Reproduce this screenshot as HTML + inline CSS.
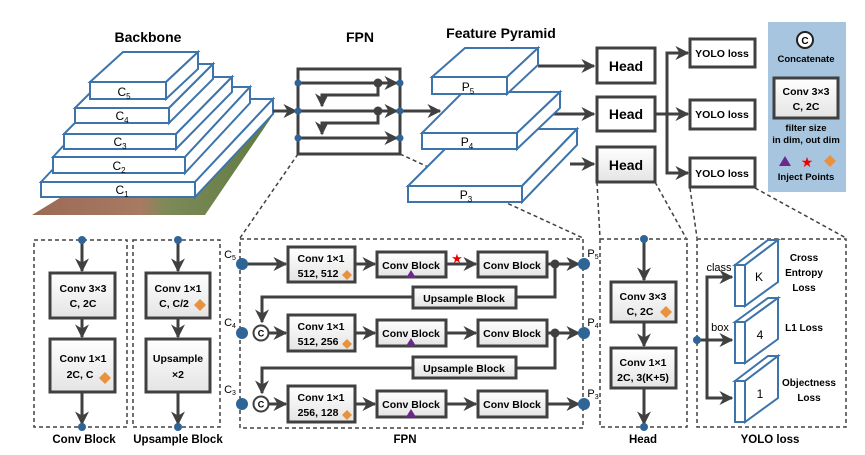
<!DOCTYPE html>
<html><head><meta charset="utf-8"><style>
html,body{margin:0;padding:0;background:#fff;}
svg{display:block;font-family:"Liberation Sans",sans-serif;}
.b{font-weight:bold;}
</style></head><body>
<svg width="865" height="455" viewBox="0 0 865 455" xmlns="http://www.w3.org/2000/svg">
<defs>
<linearGradient id="g" x1="0" y1="0" x2="0" y2="1"><stop offset="0" stop-color="#ffffff"/><stop offset="1" stop-color="#e4e4e4"/></linearGradient>
<linearGradient id="tex" x1="0" y1="0" x2="1" y2="0"><stop offset="0" stop-color="#9a6a55"/><stop offset="0.45" stop-color="#a87a62"/><stop offset="0.55" stop-color="#7d8a58"/><stop offset="1" stop-color="#5f7a40"/></linearGradient>
<marker id="A" viewBox="0 0 10 10" markerWidth="14" markerHeight="14" refX="9" refY="5" orient="auto" markerUnits="userSpaceOnUse"><path d="M0,0 L10,5 L0,10 L3,5 Z" fill="#404040"/></marker>
</defs>

<g stroke="#404040" stroke-width="1.5" stroke-dasharray="4,3" fill="none">
<line x1="298" y1="154" x2="240" y2="238"/>
<line x1="400" y1="154" x2="583" y2="238"/>
<line x1="597" y1="182" x2="600" y2="238"/>
<line x1="655" y1="182" x2="686" y2="238"/>
<line x1="690" y1="188" x2="697" y2="238"/>
<line x1="755" y1="188" x2="846" y2="238"/>
</g>

<text x="148" y="42" class="b" font-size="14" text-anchor="middle">Backbone</text>
<text x="360" y="42" class="b" font-size="14" text-anchor="middle">FPN</text>
<text x="501" y="38" class="b" font-size="14" text-anchor="middle">Feature Pyramid</text>

<polygon points="32,215 205,215 275,112 200,112" fill="url(#tex)"/>

<g stroke="#3d74ab" stroke-width="2" fill="#fff" stroke-linejoin="miter">
<polygon points="41,182 119,99 273,99 195,182"/><polygon points="195,182 273,99 273,114 195,197"/><rect x="41" y="182" width="154" height="15"/>
<polygon points="53,157 118,87 250,87 185,157"/><polygon points="185,157 250,87 250,103 185,173"/><rect x="53" y="157" width="132" height="16"/>
<polygon points="64,134 120,77 232,77 176,134"/><polygon points="176,134 232,77 232,92 176,149"/><rect x="64" y="134" width="112" height="15"/>
<polygon points="75,108 119,64 213,64 169,108"/><polygon points="169,108 213,64 213,79 169,123"/><rect x="75" y="108" width="94" height="15"/>
<polygon points="90,82 123,52 198,52 166,82"/><polygon points="166,82 198,52 198,69 166,99"/><rect x="90" y="82" width="76" height="17"/>
</g>
<g font-size="12" text-anchor="middle">
<text x="124" y="96">C<tspan font-size="8" dy="3">5</tspan></text>
<text x="122" y="120">C<tspan font-size="8" dy="3">4</tspan></text>
<text x="120" y="146">C<tspan font-size="8" dy="3">3</tspan></text>
<text x="119" y="170">C<tspan font-size="8" dy="3">2</tspan></text>
<text x="122" y="194">C<tspan font-size="8" dy="3">1</tspan></text>
</g>

<g stroke="#404040" stroke-width="3" fill="none">
<line x1="273" y1="111" x2="296" y2="111" marker-end="url(#A)"/>
<line x1="400" y1="111" x2="440" y2="111" marker-end="url(#A)"/>
</g>
<g stroke="#404040" stroke-width="3" fill="none">
<rect x="298" y="69" width="102" height="85"/>
<line x1="298" y1="83" x2="397" y2="83" marker-end="url(#A)"/>
<line x1="298" y1="111" x2="397" y2="111" marker-end="url(#A)"/>
<line x1="298" y1="138" x2="397" y2="138" marker-end="url(#A)"/>
<polyline points="378,83 378,95 322,95 322,106" marker-end="url(#A)"/>
<polyline points="378,111 378,123 322,123 322,134" marker-end="url(#A)"/>
</g>
<g fill="#2e6496"><circle cx="298" cy="83" r="3.5"/><circle cx="298" cy="111" r="3.5"/><circle cx="298" cy="138" r="3.5"/><circle cx="400" cy="83" r="3.5"/><circle cx="400" cy="111" r="3.5"/><circle cx="400" cy="138" r="3.5"/></g>
<g fill="#404040"><circle cx="378" cy="83" r="4.5"/><circle cx="378" cy="111" r="4.5"/></g>

<g stroke="#404040" stroke-width="3" fill="none">
<line x1="538" y1="66" x2="594" y2="66" marker-end="url(#A)"/>
<line x1="553" y1="114" x2="594" y2="114" marker-end="url(#A)"/>
<line x1="570" y1="164" x2="594" y2="164" marker-end="url(#A)"/>
</g>
<g stroke="#3d74ab" stroke-width="2" fill="#fff">
<polygon points="408,186 465,129 577,129 522,186"/><polygon points="522,186 577,129 577,145 522,202"/><rect x="408" y="186" width="114" height="16"/>
<polygon points="422,133 463,92 560,92 517,133"/><polygon points="517,133 560,92 560,108 517,149"/><rect x="422" y="133" width="95" height="16"/>
<polygon points="432,77 465,48 538,48 507,77"/><polygon points="507,77 538,48 538,65 507,94"/><rect x="432" y="77" width="75" height="17"/>
</g>
<g font-size="12" text-anchor="middle">
<text x="468" y="91">P<tspan font-size="8" dy="3">5</tspan></text>
<text x="467" y="146">P<tspan font-size="8" dy="3">4</tspan></text>
<text x="466" y="199">P<tspan font-size="8" dy="3">3</tspan></text>
</g>

<g stroke="#404040" stroke-width="3">
<rect x="597" y="48" width="58" height="35" fill="#fff"/>
<rect x="597" y="97" width="58" height="34" fill="#fff"/>
<rect x="597" y="147" width="58" height="35" fill="url(#g)"/>
</g>
<g class="b" font-size="14" text-anchor="middle"><text x="626" y="71">Head</text><text x="626" y="119">Head</text><text x="626" y="170">Head</text></g>
<g stroke="#404040" stroke-width="3" fill="none">
<line x1="655" y1="114" x2="688" y2="114" marker-end="url(#A)"/>
<polyline points="680,53 667,53 667,173 680,173"/>
<line x1="667" y1="53" x2="688" y2="53" marker-end="url(#A)"/>
<line x1="667" y1="173" x2="688" y2="173" marker-end="url(#A)"/>
</g>
<g stroke="#404040" stroke-width="3" fill="#fff">
<rect x="690" y="39" width="65" height="28"/><rect x="690" y="100" width="65" height="29"/><rect x="690" y="158" width="65" height="29"/>
</g>
<g class="b" font-size="10.5" text-anchor="middle"><text x="722" y="57">YOLO loss</text><text x="722" y="118">YOLO loss</text><text x="722" y="177">YOLO loss</text></g>

<rect x="768" y="22" width="78" height="170" fill="#a8c5df"/>
<circle cx="805" cy="40" r="8" fill="#fff" stroke="#222" stroke-width="2"/>
<text x="805" y="44" class="b" font-size="10" text-anchor="middle">C</text>
<text x="806" y="62" class="b" font-size="9.5" text-anchor="middle">Concatenate</text>
<rect x="774" y="78" width="64" height="40" fill="url(#g)" stroke="#404040" stroke-width="3"/>
<text x="806" y="95" class="b" font-size="10.5" text-anchor="middle">Conv 3×3</text>
<text x="806" y="110" class="b" font-size="10.5" text-anchor="middle">C, 2C</text>
<text x="806" y="131" class="b" font-size="9.5" text-anchor="middle">filter size</text>
<text x="806" y="143" class="b" font-size="9.5" text-anchor="middle">in dim, out dim</text>
<polygon points="785,156 791,166 779,166" fill="#6a2a8a"/>
<text x="807" y="167" font-size="14" fill="#e00" text-anchor="middle">★</text>
<polygon points="830,155 836,161 830,167 824,161" fill="#e8913f"/>
<text x="806" y="180" class="b" font-size="9.5" text-anchor="middle">Inject Points</text>

<g stroke="#404040" stroke-width="1.5" stroke-dasharray="4,3" fill="none">
<rect x="34" y="240" width="93" height="187"/>
<rect x="133" y="240" width="87" height="187"/>
<rect x="240" y="239" width="343" height="189"/>
<rect x="600" y="239" width="87" height="188"/>
<rect x="697" y="239" width="149" height="188"/>
</g>
<g stroke="#404040" stroke-width="3" fill="none">
<line x1="82" y1="240" x2="82" y2="271" marker-end="url(#A)"/>
<line x1="82" y1="318" x2="82" y2="337" marker-end="url(#A)"/>
<line x1="82" y1="392" x2="82" y2="424" marker-end="url(#A)"/>
<line x1="178" y1="240" x2="178" y2="271" marker-end="url(#A)"/>
<line x1="178" y1="318" x2="178" y2="337" marker-end="url(#A)"/>
<line x1="178" y1="392" x2="178" y2="424" marker-end="url(#A)"/>
<line x1="644" y1="239" x2="644" y2="280" marker-end="url(#A)"/>
<line x1="644" y1="322" x2="644" y2="346" marker-end="url(#A)"/>
<line x1="644" y1="388" x2="644" y2="424" marker-end="url(#A)"/>
</g>
<g stroke="#404040" stroke-width="3" fill="url(#g)">
<rect x="50" y="273" width="65" height="45"/><rect x="50" y="339" width="65" height="53"/>
<rect x="146" y="273" width="64" height="45"/><rect x="146" y="339" width="64" height="53"/>
<rect x="611" y="282" width="65" height="40"/><rect x="611" y="348" width="65" height="40"/>
</g>
<g class="b" font-size="10.5" text-anchor="middle">
<text x="83" y="292">Conv 3×3</text><text x="83" y="307">C, 2C</text>
<text x="83" y="362">Conv 1×1</text><text x="80" y="378">2C, C</text>
<text x="178" y="292">Conv 1×1</text><text x="174" y="307">C, C/2</text>
<text x="178" y="362">Upsample</text><text x="178" y="378">×2</text>
<text x="643" y="300">Conv 3×3</text><text x="640" y="315">C, 2C</text>
<text x="643" y="366">Conv 1×1</text><text x="643" y="381">2C, 3(K+5)</text>
</g>
<g fill="#e8913f">
<polygon points="105,372 111,378 105,384 99,378"/>
<polygon points="200,299 206,305 200,311 194,305"/>
<polygon points="666,306 672,312 666,318 660,312"/>
</g>
<g fill="#2e6496">
<circle cx="82" cy="240" r="4"/><circle cx="82" cy="427" r="4"/>
<circle cx="178" cy="240" r="4"/><circle cx="178" cy="427" r="4"/>
<circle cx="644" cy="239" r="4"/><circle cx="644" cy="427" r="4"/>
</g>
<g class="b" font-size="11.5" text-anchor="middle">
<text x="84" y="443">Conv Block</text><text x="178" y="443">Upsample Block</text>
<text x="405" y="443">FPN</text><text x="643" y="443">Head</text><text x="770" y="443">YOLO loss</text>
</g>

<g stroke="#404040" stroke-width="3" fill="none">
<line x1="244" y1="264" x2="286" y2="264" marker-end="url(#A)"/>
<line x1="355" y1="264" x2="375" y2="264" marker-end="url(#A)"/>
<line x1="446" y1="264" x2="476" y2="264" marker-end="url(#A)"/>
<line x1="547" y1="264" x2="579" y2="264" marker-end="url(#A)"/>
<polyline points="555,264 555,297 516,297"/>
<polyline points="413,297 262,297 262,322" marker-end="url(#A)"/>
<line x1="269" y1="333" x2="286" y2="333" marker-end="url(#A)"/>
<line x1="355" y1="333" x2="375" y2="333" marker-end="url(#A)"/>
<line x1="446" y1="333" x2="476" y2="333" marker-end="url(#A)"/>
<line x1="547" y1="333" x2="579" y2="333" marker-end="url(#A)"/>
<polyline points="555,333 555,368 516,368"/>
<polyline points="413,368 262,368 262,393" marker-end="url(#A)"/>
<line x1="269" y1="404" x2="286" y2="404" marker-end="url(#A)"/>
<line x1="355" y1="404" x2="375" y2="404" marker-end="url(#A)"/>
<line x1="446" y1="404" x2="476" y2="404" marker-end="url(#A)"/>
<line x1="547" y1="404" x2="579" y2="404" marker-end="url(#A)"/>
</g>
<g stroke="#404040" stroke-width="3" fill="url(#g)">
<rect x="288" y="247" width="67" height="35"/><rect x="377" y="252" width="69" height="25"/><rect x="478" y="252" width="69" height="25"/>
<rect x="413" y="287" width="103" height="21"/>
<rect x="288" y="315" width="67" height="36"/><rect x="377" y="320" width="69" height="26"/><rect x="478" y="320" width="69" height="26"/>
<rect x="413" y="357" width="103" height="21"/>
<rect x="288" y="386" width="67" height="36"/><rect x="377" y="391" width="69" height="26"/><rect x="478" y="391" width="69" height="26"/>
</g>
<g class="b" font-size="10.5" text-anchor="middle">
<text x="321" y="262">Conv 1×1</text><text x="318" y="277">512, 512</text>
<text x="411" y="269">Conv Block</text><text x="512" y="269">Conv Block</text>
<text x="464" y="302">Upsample Block</text>
<text x="321" y="330">Conv 1×1</text><text x="318" y="345">512, 256</text>
<text x="411" y="337">Conv Block</text><text x="512" y="337">Conv Block</text>
<text x="464" y="372">Upsample Block</text>
<text x="321" y="401">Conv 1×1</text><text x="318" y="416">256, 128</text>
<text x="411" y="408">Conv Block</text><text x="512" y="408">Conv Block</text>
</g>
<g fill="#e8913f">
<polygon points="347,270 352,275 347,280 342,275"/>
<polygon points="347,339 352,344 347,349 342,344"/>
<polygon points="347,410 352,415 347,420 342,415"/>
</g>
<g fill="#6a2a8a">
<polygon points="411,270 416,278 406,278"/><polygon points="411,338 416,346 406,346"/><polygon points="411,409 416,417 406,417"/>
</g>
<text x="457" y="263" font-size="13" fill="#e00" text-anchor="middle">★</text>
<g fill="#404040"><circle cx="555" cy="264" r="4.5"/><circle cx="555" cy="333" r="4.5"/></g>
<g fill="#fff" stroke="#404040" stroke-width="2"><circle cx="261" cy="333" r="7.5"/><circle cx="261" cy="404" r="7.5"/></g>
<g class="b" font-size="9" text-anchor="middle"><text x="261" y="336.5">C</text><text x="261" y="407.5">C</text></g>
<g fill="#2e6496">
<circle cx="242" cy="264" r="6"/><circle cx="242" cy="333" r="6"/><circle cx="242" cy="404" r="6"/>
<circle cx="584" cy="264" r="6"/><circle cx="584" cy="333" r="6"/><circle cx="584" cy="404" r="6"/>
</g>
<g font-size="11" text-anchor="middle">
<text x="230" y="258">C<tspan font-size="7" dy="2">5</tspan></text>
<text x="230" y="326">C<tspan font-size="7" dy="2">4</tspan></text>
<text x="230" y="393">C<tspan font-size="7" dy="2">3</tspan></text>
<text x="593" y="257">P<tspan font-size="7" dy="2">5</tspan></text>
<text x="593" y="326">P<tspan font-size="7" dy="2">4</tspan></text>
<text x="593" y="397">P<tspan font-size="7" dy="2">3</tspan></text>
</g>

<g stroke="#404040" stroke-width="3" fill="none">
<line x1="697" y1="340" x2="732" y2="340" marker-end="url(#A)"/>
<polyline points="724,277 707,277 707,398 724,398"/>
<line x1="707" y1="277" x2="732" y2="277" marker-end="url(#A)"/>
<line x1="707" y1="398" x2="732" y2="398" marker-end="url(#A)"/>
</g>
<circle cx="697" cy="340" r="4" fill="#2e6496"/>
<text x="719" y="271" font-size="11" text-anchor="middle">class</text>
<text x="720" y="331" font-size="11" text-anchor="middle">box</text>
<g stroke="#3d74ab" stroke-width="2" fill="#fff">
<polygon points="735,265 768,240 778,240 745,265"/><polygon points="745,265 778,240 778,282 745,306"/><rect x="735" y="265" width="10" height="41"/>
<polygon points="735,322 768,298 778,298 745,322"/><polygon points="745,322 778,298 778,339 745,363"/><rect x="735" y="322" width="10" height="41"/>
<polygon points="735,381 768,356 778,356 745,381"/><polygon points="745,381 778,356 778,398 745,422"/><rect x="735" y="381" width="10" height="41"/>
</g>
<g font-size="12" text-anchor="middle"><text x="759" y="281">K</text><text x="760" y="339">4</text><text x="760" y="398">1</text></g>
<g class="b" font-size="10" text-anchor="middle">
<text x="804" y="261">Cross</text><text x="804" y="276">Entropy</text><text x="804" y="291">Loss</text>
<text x="804" y="331">L1 Loss</text>
<text x="809" y="386">Objectness</text><text x="809" y="401">Loss</text>
</g>
</svg>
</body></html>
